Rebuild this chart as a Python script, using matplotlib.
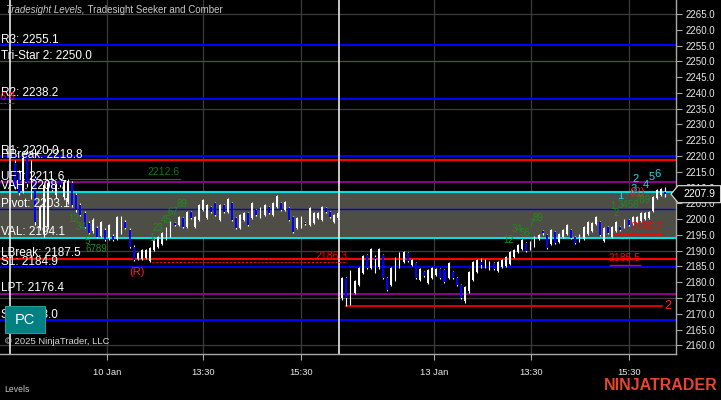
import numpy as np
import matplotlib.pyplot as plt
from matplotlib.patches import Polygon, Rectangle
from matplotlib.transforms import blended_transform_factory

plt.rcParams['font.family'] = ['Liberation Sans', 'DejaVu Sans']

# ---- 5 min bars, 10 Jan (first 80) and 13 Jan (last 80) ----
day1_open = [2217.8, 2214.5, 2209.0, 2220.9, 2207.6, 2213.0, 2197.2, 2195.6, 2197.5, 2212.4,
             2207.6, 2212.4, 2207.0, 2205.4, 2211.4, 2207.6, 2204.5, 2201.9, 2198.8, 2196.2,
             2197.2, 2194.6, 2196.5, 2194.0, 2194.6, 2193.7, 2195.9, 2199.1, 2196.5, 2191.2,
             2187.3, 2187.3, 2187.7, 2186.7, 2190.2, 2191.2, 2192.1, 2193.7, 2194.6, 2198.8,
             2198.1, 2200.3, 2197.5, 2202.2, 2197.5, 2199.7, 2202.9, 2200.3, 2203.8, 2205.1,
             2199.7, 2204.5, 2202.2, 2205.1, 2200.3, 2197.2, 2199.7, 2201.9, 2200.3, 2202.9,
             2200.7, 2201.3, 2203.8, 2201.3, 2203.8, 2205.1, 2202.9, 2203.5, 2200.7, 2197.2,
             2197.5, 2198.8, 2198.1, 2198.8, 2200.3, 2199.7, 2203.5, 2202.2, 2199.1, 2200.3]
day1_high = [2218.7, 2215.6, 2220.3, 2221.9, 2218.7, 2213.8, 2204.5, 2211.4, 2212.4, 2213.0,
             2211.4, 2213.0, 2212.4, 2212.7, 2212.0, 2208.3, 2205.1, 2202.5, 2199.4, 2200.3,
             2197.8, 2199.4, 2197.1, 2198.4, 2195.3, 2201.0, 2201.0, 2199.7, 2197.2, 2191.8,
             2189.6, 2190.5, 2190.5, 2191.2, 2193.7, 2194.6, 2195.9, 2197.5, 2199.4, 2199.1,
             2201.0, 2200.7, 2202.5, 2202.5, 2201.0, 2204.8, 2206.4, 2204.8, 2204.2, 2205.4,
             2204.8, 2204.8, 2206.7, 2205.4, 2200.7, 2201.6, 2202.2, 2202.2, 2205.4, 2203.2,
             2203.8, 2204.8, 2204.2, 2205.4, 2207.6, 2205.4, 2205.7, 2203.8, 2201.0, 2200.7,
             2201.0, 2199.1, 2203.8, 2202.2, 2202.2, 2204.2, 2203.8, 2202.6, 2201.6, 2202.2]
day1_low = [2209.5, 2207.6, 2208.3, 2210.2, 2206.5, 2198.1, 2196.5, 2194.3, 2196.8, 2208.9,
            2206.8, 2210.2, 2206.4, 2204.8, 2203.8, 2202.3, 2200.9, 2197.2, 2195.3, 2195.6,
            2194.0, 2194.3, 2193.1, 2193.4, 2193.1, 2193.4, 2195.3, 2196.9, 2190.8, 2186.7,
            2187.0, 2187.0, 2187.3, 2186.4, 2189.9, 2190.8, 2191.8, 2193.4, 2194.3, 2197.8,
            2197.8, 2197.2, 2197.2, 2200.0, 2197.2, 2199.4, 2202.6, 2200.0, 2202.0, 2201.0,
            2199.4, 2202.0, 2201.9, 2199.4, 2196.9, 2196.9, 2199.4, 2197.8, 2200.0, 2201.0,
            2200.3, 2201.0, 2201.6, 2201.0, 2203.5, 2202.6, 2202.6, 2199.4, 2195.6, 2196.9,
            2197.2, 2198.1, 2197.8, 2198.4, 2200.0, 2199.4, 2201.9, 2200.3, 2198.8, 2200.0]
day1_close = [2210.2, 2208.3, 2219.5, 2211.0, 2217.8, 2199.1, 2203.8, 2210.8, 2211.4, 2209.2,
              2210.8, 2210.8, 2211.8, 2212.0, 2204.5, 2202.9, 2201.3, 2197.5, 2195.6, 2199.7,
              2194.3, 2199.1, 2193.4, 2198.1, 2193.4, 2200.7, 2200.7, 2197.2, 2191.2, 2187.0,
              2189.3, 2190.2, 2190.2, 2190.8, 2193.4, 2194.3, 2195.6, 2197.2, 2199.1, 2198.1,
              2200.7, 2197.5, 2202.2, 2200.3, 2200.7, 2204.5, 2206.0, 2204.5, 2202.2, 2201.3,
              2204.5, 2202.2, 2206.4, 2199.7, 2197.2, 2201.3, 2201.9, 2198.1, 2205.1, 2201.3,
              2203.5, 2204.5, 2201.9, 2205.1, 2207.3, 2202.9, 2205.4, 2199.7, 2195.9, 2200.3,
              2200.7, 2198.4, 2203.5, 2201.9, 2201.9, 2203.8, 2202.2, 2200.7, 2201.3, 2201.9]

day2_open = [2175.0, 2181.3, 2175.3, 2176.6, 2179.1, 2182.9, 2188.6, 2184.5, 2187.9, 2184.8,
             2188.6, 2181.3, 2179.1, 2180.7, 2184.8, 2186.4, 2189.3, 2185.4, 2186.1, 2180.7,
             2183.2, 2179.7, 2181.3, 2182.3, 2184.2, 2183.9, 2181.3, 2183.2, 2181.3, 2179.1,
             2174.0, 2177.2, 2180.7, 2183.2, 2186.4, 2184.8, 2184.2, 2186.1, 2183.5, 2184.8,
             2185.1, 2185.7, 2187.9, 2189.6, 2190.5, 2192.4, 2190.5, 2191.5, 2193.7, 2196.2,
             2195.0, 2192.1, 2195.9, 2192.7, 2194.3, 2195.3, 2196.5, 2194.3, 2193.1, 2193.7,
             2195.3, 2196.2, 2198.4, 2199.1, 2193.1, 2197.5, 2194.3, 2196.2, 2197.5, 2197.5,
             2199.7, 2198.4, 2199.1, 2199.4, 2200.0, 2200.3, 2202.6, 2206.7, 2207.6, 2208.6]
day2_high = [2181.6, 2181.6, 2183.9, 2180.7, 2184.8, 2188.6, 2188.9, 2190.8, 2188.6, 2190.8,
             2189.0, 2181.6, 2184.8, 2188.0, 2189.6, 2189.9, 2189.6, 2187.3, 2186.4, 2184.5,
             2183.5, 2184.2, 2184.8, 2184.5, 2184.5, 2184.2, 2186.4, 2183.5, 2181.6, 2179.4,
             2178.8, 2183.5, 2186.7, 2187.3, 2187.7, 2187.3, 2186.7, 2186.4, 2186.7, 2187.3,
             2188.3, 2189.9, 2190.5, 2192.1, 2193.7, 2192.7, 2193.1, 2194.6, 2195.3, 2196.5,
             2195.3, 2196.9, 2196.2, 2195.6, 2196.9, 2198.4, 2196.9, 2194.6, 2195.3, 2197.8,
             2199.4, 2199.1, 2201.0, 2199.4, 2197.5, 2197.8, 2197.8, 2199.4, 2197.8, 2200.0,
             2200.0, 2201.0, 2201.0, 2202.2, 2202.2, 2202.6, 2207.3, 2209.5, 2209.9, 2210.2]
day2_low = [2174.4, 2172.5, 2172.8, 2176.3, 2178.8, 2182.6, 2184.2, 2184.2, 2182.9, 2184.2,
            2181.0, 2177.2, 2178.8, 2180.4, 2184.5, 2186.1, 2186.4, 2185.1, 2181.0, 2180.4,
            2181.6, 2179.4, 2181.0, 2182.0, 2181.0, 2179.7, 2181.0, 2181.0, 2178.8, 2174.7,
            2173.4, 2176.6, 2180.4, 2182.9, 2184.5, 2184.5, 2183.9, 2183.9, 2183.2, 2184.5,
            2184.8, 2185.4, 2187.7, 2189.3, 2190.2, 2189.6, 2190.2, 2191.2, 2193.4, 2195.0,
            2190.5, 2191.8, 2192.1, 2192.4, 2194.0, 2195.0, 2193.7, 2192.1, 2192.7, 2193.4,
            2195.0, 2195.9, 2198.1, 2194.7, 2192.7, 2195.3, 2194.0, 2195.9, 2196.2, 2197.2,
            2197.8, 2198.1, 2198.8, 2199.1, 2199.7, 2200.0, 2202.2, 2206.4, 2207.3, 2207.0]
day2_close = [2181.3, 2175.0, 2183.5, 2180.4, 2184.5, 2188.3, 2184.5, 2190.5, 2187.3, 2190.5,
              2181.3, 2177.5, 2184.5, 2187.7, 2189.3, 2189.6, 2186.7, 2187.0, 2181.3, 2184.2,
              2182.0, 2183.9, 2184.5, 2184.2, 2181.3, 2180.1, 2186.1, 2181.3, 2179.1, 2175.0,
              2178.5, 2183.2, 2186.4, 2187.0, 2185.4, 2187.0, 2186.4, 2184.2, 2186.4, 2187.0,
              2188.0, 2189.6, 2190.2, 2191.8, 2193.4, 2189.9, 2192.7, 2194.3, 2195.0, 2195.6,
              2190.8, 2196.5, 2192.4, 2195.3, 2196.5, 2198.1, 2194.0, 2192.4, 2195.0, 2197.5,
              2199.1, 2198.8, 2200.7, 2195.0, 2197.2, 2195.6, 2197.5, 2199.1, 2196.5, 2199.7,
              2198.1, 2200.7, 2200.7, 2201.9, 2201.9, 2202.2, 2207.0, 2209.2, 2209.5, 2207.9]

# ---- levels ----
level_names = ['R3', 'Tri-Star 2', 'R2', 'R1', 'HBreak', 'UFT', 'VAH', 'Pivot',
               'VAL', 'LBreak', 'S1', 'LPT', 'S2']
level_values = [2255.1, 2250.0, 2238.2, 2220.0, 2218.8, 2211.6, 2208.7, 2203.1,
                2194.1, 2187.5, 2184.9, 2176.4, 2168.0]
level_colors = ['#0000ff', '#107a10', '#0000ff', '#0000ff', '#ff0000', '#8b008b', '#00e0e0',
                '#0000e0', '#00e0e0', '#ff0000', '#0000e0', '#8b008b', '#0000ff']
level_widths = [1.5, 0.8, 1.5, 1.5, 1.5, 1.5, 1.5, 1.0, 1.5, 1.5, 1.5, 1.5, 1.5]

# x axis (bar index) labels
tick_pos = [22.5, 46.0, 69.9, 102.4, 126.2, 150.1]
tick_labels = ['10 Jan', '13:30', '15:30', '13 Jan', '13:30', '15:30']
session_breaks = [-1.2, 79.2]

# seeker / comber counts (text, bar x, price)
green_counts = [('12', 14.4, 2200.0), ('34', 16.1, 2197.4), ('5', 17.6, 2193.1), ('6789', 20.0, 2190.5),
                ('1', 33.5, 2193.9), ('23', 35.0, 2197.2), ('45', 36.9, 2199.7), ('67', 38.6, 2202.4),
                ('89', 40.8, 2204.7),
                ('12', 120.8, 2193.4), ('34', 122.7, 2196.8), ('56', 124.7, 2195.6), ('7', 126.2, 2198.5),
                ('89', 127.9, 2200.3),
                ('1', 146.2, 2204.1), ('2', 146.9, 2201.9), ('3456', 149.9, 2204.5), ('789', 153.5, 2206.1)]
cyan_counts = [('1', 147.9, 2207.3), ('2', 151.8, 2212.7), ('3', 151.2, 2209.5),
               ('4', 154.3, 2210.8), ('5', 155.7, 2213.3), ('6', 157.0, 2214.3)]
r_marks = [(29.8, 2183.2), (152.1, 2208.6)]

last_price = 2207.9

# ---------------------------------------------------------------
opens = np.array(day1_open + day2_open)
highs = np.array(day1_high + day2_high)
lows = np.array(day1_low + day2_low)
closes = np.array(day1_close + day2_close)
x = np.arange(len(opens))
up = closes >= opens

fig = plt.figure(figsize=(7.21, 4.0), dpi=100, facecolor='black')
ax = fig.add_axes([0, 46 / 400, 676 / 721, 354 / 400], facecolor='black')
ax.set_xlim(-3.67, 161.6)
ax.set_ylim(2157.24, 2269.44)

# grid
for g in np.arange(2160, 2266, 15):
    ax.axhline(g, color='#3c3c3c', lw=0.9, zorder=0)
for t in tick_pos:
    ax.axvline(t, color='#3c3c3c', lw=0.9, zorder=0)

# value area band
ax.axhspan(level_values[8], level_values[6], color='#4e4d46', zorder=0.5, lw=0)

# level lines and labels
for name, val, col, w in zip(level_names, level_values, level_colors, level_widths):
    ax.axhline(val, color=col, lw=w, zorder=1)
for name, val in zip(level_names, level_values):
    ax.annotate('%s: %.1f' % (name, val), xy=(-3.67, val), xytext=(0.5, 1.6),
                textcoords='offset points', color='white', fontsize=8.5,
                va='baseline', ha='left', zorder=6)

# session breaks
for s in session_breaks:
    ax.axvline(s, color='white', lw=1.1, zorder=2)

# candles
ax.vlines(x, lows, highs, color='white', lw=0.8, zorder=3)
ax.bar(x[up], closes[up] - opens[up], bottom=opens[up], width=0.4,
       color='white', lw=0, zorder=4)
ax.bar(x[~up], opens[~up] - closes[~up], bottom=closes[~up], width=0.5,
       color='#0000ff', lw=0, zorder=4)

# extra seeker/comber lines
ax.plot([13.4, 40.3], [2212.7, 2212.7], color='#107a10', lw=0.8, zorder=2)
ax.text(40.3, 2213.2, '2212.6', color='#107a10', fontsize=7.5, ha='right', va='bottom', zorder=6)
ax.plot([33.5, 81.2], [2186.3, 2186.3], color='#ff0000', lw=0.8, ls=(0, (2, 1.5)), zorder=2)
ax.text(81.2, 2186.8, '2186.3', color='#ff0000', fontsize=7.5, ha='right', va='bottom', zorder=6)
ax.plot([-3.7, 0.0], [2236.8, 2236.8], color='#ff0000', lw=0.8, ls=(0, (2, 1.5)), zorder=2)
ax.text(0.0, 2237.1, '2236.8', color='#ff0000', fontsize=7.5, ha='right', va='bottom',
        zorder=6, clip_on=True)
ax.plot([81.0, 158.2], [2172.4, 2172.4], color='#ff0000', lw=1.2, zorder=2)
ax.text(159.7, 2172.4, '2', color='#ff2020', fontsize=9, ha='center', va='center', zorder=6)
ax.plot([146.0, 158.2], [2195.2, 2195.2], color='#ff0000', lw=1.2, zorder=2)
ax.text(158.2, 2195.8, '2195.2', color='#ff0000', fontsize=7.5, ha='right', va='bottom', zorder=6)
ax.plot([145.5, 152.8], [2185.5, 2185.5], color='#ff0000', lw=1.0, zorder=2)
ax.text(152.8, 2186.0, '2185.5', color='#ff0000', fontsize=7.5, ha='right', va='bottom', zorder=6)

for txt, bx, by in green_counts:
    ax.text(bx, by, txt, color='#1e8c1e', fontsize=7, ha='center', va='center', zorder=6)
for txt, bx, by in cyan_counts:
    ax.text(bx, by, txt, color='#20d8f0', fontsize=8, ha='center', va='center', zorder=6)
for bx, by in r_marks:
    ax.text(bx, by, '(R)', color='#ff2020', fontsize=8, ha='center', va='center', zorder=6)

# axes styling
for sp in ['top', 'left']:
    ax.spines[sp].set_visible(False)
for sp in ['right', 'bottom']:
    ax.spines[sp].set_color('#a8a8a8')
    ax.spines[sp].set_linewidth(1.0)
ax.yaxis.tick_right()
ax.set_yticks(np.arange(2160, 2266, 5))
ax.set_yticklabels(['%.1f' % v for v in np.arange(2160, 2266, 5)])
ax.set_xticks(tick_pos)
ax.set_xticklabels(tick_labels)
ax.tick_params(axis='y', colors='#a8a8a8', labelcolor='#e8e8e8', labelsize=7, length=4, pad=3)
ax.tick_params(axis='x', colors='#a8a8a8', labelcolor='#e8e8e8', labelsize=6.8, length=4, pad=6)

# last price marker
bt = blended_transform_factory(ax.transAxes, ax.transData)
marker = Polygon([(0.9926, last_price), (1.003, last_price + 2.7), (1.066, last_price + 2.7),
                  (1.066, last_price - 2.7), (1.003, last_price - 2.7)],
                 closed=True, transform=bt, fc='black', ec='#d0d0d0', lw=0.9,
                 clip_on=False, zorder=10)
ax.add_patch(marker)
ax.text(1.034, last_price, '%.1f' % last_price, transform=bt, color='white',
        fontsize=7.5, ha='center', va='center', clip_on=False, zorder=11)

# figure texts
t1 = fig.text(6 / 721, 1 - 10 / 400, 'Tradesight Levels,', color='#c8c8c8', fontsize=7,
              style='italic', va='center', ha='left')
ax.annotate(' Tradesight Seeker and Comber', xy=(1, 0.5), xycoords=t1, color='#c8c8c8',
            fontsize=7, va='center', ha='left', annotation_clip=False)

fig.patches.append(Rectangle((5 / 721, 1 - 333 / 400), 40 / 721, 27 / 400,
                             transform=fig.transFigure, fc='#008080', ec='#2a9a9a', lw=0.8,
                             zorder=20))
fig.text(25 / 721, 1 - 319.5 / 400, 'PC', color='white', fontsize=10.5, ha='center',
         va='center', zorder=21)
fig.text(5 / 721, 1 - 342 / 400, '\u00a9 2025 NinjaTrader, LLC', color='#d8d8d8',
         fontsize=6.8, va='center', ha='left')
fig.text(4 / 721, 1 - 390 / 400, 'Levels', color='#c8c8c8', fontsize=6.2, va='center', ha='left')
fig.text(718 / 721, 1 - 386 / 400, 'NINJATRADER', color='#e8462c', fontsize=11.5,
         fontweight='bold', va='center', ha='right')

fig.savefig('out.png', dpi=100, facecolor='black')
